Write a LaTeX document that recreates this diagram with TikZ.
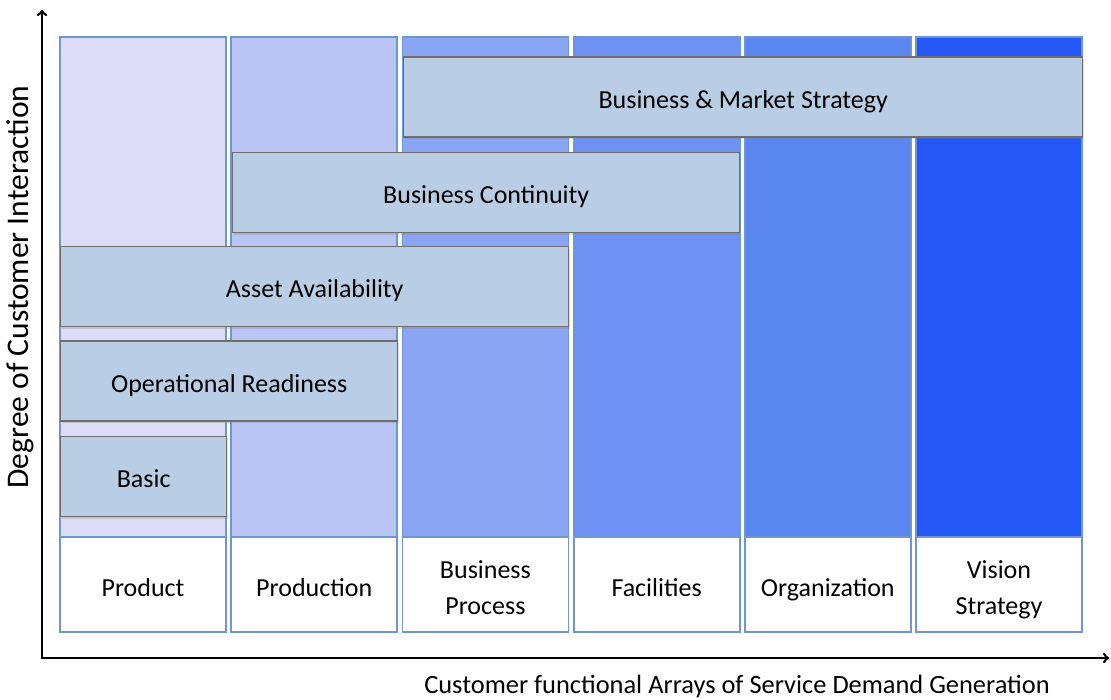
\documentclass[tikz,border=0pt]{standalone}
\usepackage{fontspec}
\setmainfont{Carlito}
\usetikzlibrary{arrows,positioning,shadows}

\definecolor{borde}{HTML}{6F97CF}
\definecolor{relleno}{HTML}{B9CDE5}
\definecolor{bordegris}{HTML}{6E6E6E}
\definecolor{colA}{HTML}{DCDCF6}
\definecolor{colB}{HTML}{B9C5F5}
\definecolor{colC}{HTML}{8BA5F5}
\definecolor{colD}{HTML}{6E92F3}
\definecolor{colE}{HTML}{5A86F0}
\definecolor{colF}{HTML}{2457F5}

\begin{document}
\begin{tikzpicture}[x=1pt, y=-1pt, node distance=5.2pt]
  % estilos
  \tikzset{
    columna/.style={
           rectangle,
           draw=borde,
           line width=1.8pt,
           minimum width=166pt,
           minimum height=500pt,
           inner sep=0pt,
           outer sep=0pt},
    etiqueta/.style={
           rectangle,
           draw=borde,
           fill=white,
           line width=1.8pt,
           minimum width=166pt,
           minimum height=95pt,
           inner sep=0pt,
           outer sep=0pt,
           text width=160pt,
           align=center,
           execute at begin node={\rule{0pt}{35pt}},
           execute at end node=\strut,
           font=\fontsize{26}{36}\selectfont},
    franja/.style={
           rectangle,
           draw=bordegris,
           fill=relleno,
           line width=1.4pt,
           minimum height=80pt,
           inner sep=0pt,
           text height=28pt,
           text depth=6pt,
           anchor=west,
           font=\fontsize{26}{30}\selectfont,
           drop shadow={shadow xshift=1pt, shadow yshift=-2pt, opacity=0.25}},
    % ejes
    eje/.style={
           <->,
           line width=2.6pt}
    }
  \useasboundingbox (0,0) rectangle (1111,699);

  % columnas
  \node[columna, fill=colA, anchor=north west] (col1) at (60,37) {};
  \node[columna, fill=colB, right=of col1] (col2) {};
  \node[columna, fill=colC, right=of col2] (col3) {};
  \node[columna, fill=colD, right=of col3] (col4) {};
  \node[columna, fill=colE, right=of col4] (col5) {};
  \node[columna, fill=colF, right=of col5] (col6) {};

  % etiquetas
  \node[etiqueta, below=0pt of col1] (product) {Product};
  \node[etiqueta, below=0pt of col2] (production) {Production};
  \node[etiqueta, below=0pt of col3] (process) {Business\\Process};
  \node[etiqueta, below=0pt of col4] (facilities) {Facilities};
  \node[etiqueta, below=0pt of col5] (organization) {Organization};
  \node[etiqueta, below=0pt of col6] (vision) {Vision\\Strategy};

  % franjas
  \node[franja, minimum width=679pt] (market) at (403,97) {Business \& Market Strategy};
  \node[franja, minimum width=507pt] (continuity) at (232,192.5) {Business Continuity};
  \node[franja, minimum width=508pt] (asset) at (60,286.5) {Asset Availability};
  \node[franja, minimum width=337pt] (readiness) at (60,381) {Operational Readiness};
  \node[franja, minimum width=166pt] (basic) at (60,476.5) {Basic};

  % ejes
  \coordinate (origen) at (42,658);
  \coordinate (ytope) at (42,10);
  \coordinate (xfin) at (1109,658);
  \draw[eje] (ytope) -- (origen) -- (xfin);
  \node[rotate=90, font=\fontsize{31.5}{34}\selectfont] (ylabel) at (20,287) {Degree of Customer Interaction};
  \node[font=\fontsize{26.4}{30}\selectfont] (xlabel) at (737,686) {Customer functional Arrays of Service Demand Generation};
\end{tikzpicture}
\end{document}
